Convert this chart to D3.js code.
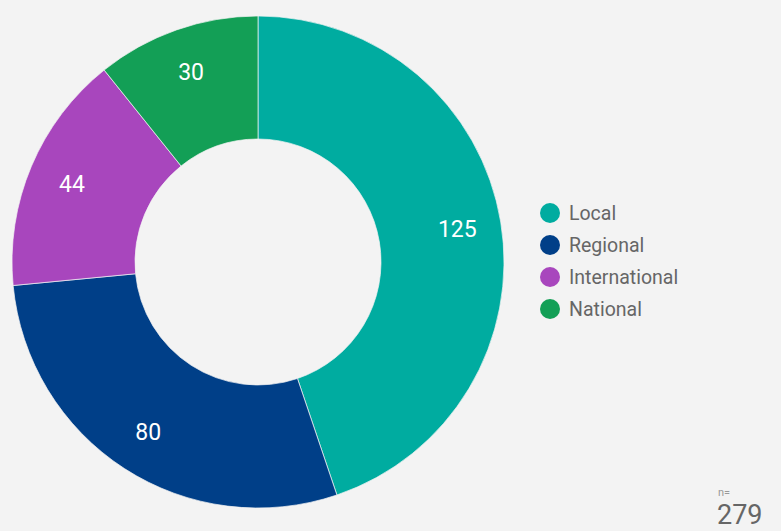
<!DOCTYPE html>
<html><head><meta charset="utf-8">
<script src="https://cdn.jsdelivr.net/npm/d3@7"></script>
<style>html,body{margin:0;padding:0;background:#f3f3f3;}svg{display:block;font-family:Roboto,"Noto Sans",sans-serif;}</style>
</head><body>
<svg id="c" width="781" height="531"></svg>
<script>
const categories = ["Local", "Regional", "International", "National"];
const values = [125, 80, 44, 30];
const colors = ["#00aca0", "#003f88", "#a846bd", "#139f56"];
const total = 279;

const svg = d3.select("#c");
svg.append("rect").attr("width",781).attr("height",531).attr("fill","#f3f3f3");
const cx = 258, cy = 262, R = 246, r0 = 123;
const g = svg.append("g").attr("transform",`translate(${cx},${cy})`);
const pie = d3.pie().sort(null).value(d=>d.v);
const data = pie(categories.map((c,i)=>({c, v:values[i], col:colors[i]})));
const arc = d3.arc().innerRadius(r0).outerRadius(R);
g.selectAll("path").data(data).join("path")
  .attr("d",arc).attr("fill",d=>d.data.col)
  .attr("stroke","#f3f3f3").attr("stroke-width",0.7);
const labelArc = d3.arc().innerRadius(202).outerRadius(202);
g.selectAll("text.lbl").data(data).join("text").attr("class","lbl")
  .attr("transform",d=>`translate(${labelArc.centroid(d)})`)
  .attr("text-anchor","middle").attr("dy","0.36em")
  .attr("fill","#fff").attr("font-size",23)
  .text(d=>d.data.v);

const lg = svg.append("g").attr("transform","translate(550,213)");
const items = lg.selectAll("g").data(categories).join("g")
  .attr("transform",(d,i)=>`translate(0,${i*32})`);
items.append("circle").attr("r",10).attr("fill",(d,i)=>colors[i]);
items.append("text").attr("x",19).attr("dy","0.36em").attr("fill","#666")
  .attr("font-size",19.5).text(d=>d);

svg.append("text").attr("x",718).attr("y",496).attr("fill","#999").attr("font-size",11).text("n=");
svg.append("text").attr("x",717).attr("y",524).attr("fill","#666").attr("font-size",27).text(total);
</script>
</body></html>
